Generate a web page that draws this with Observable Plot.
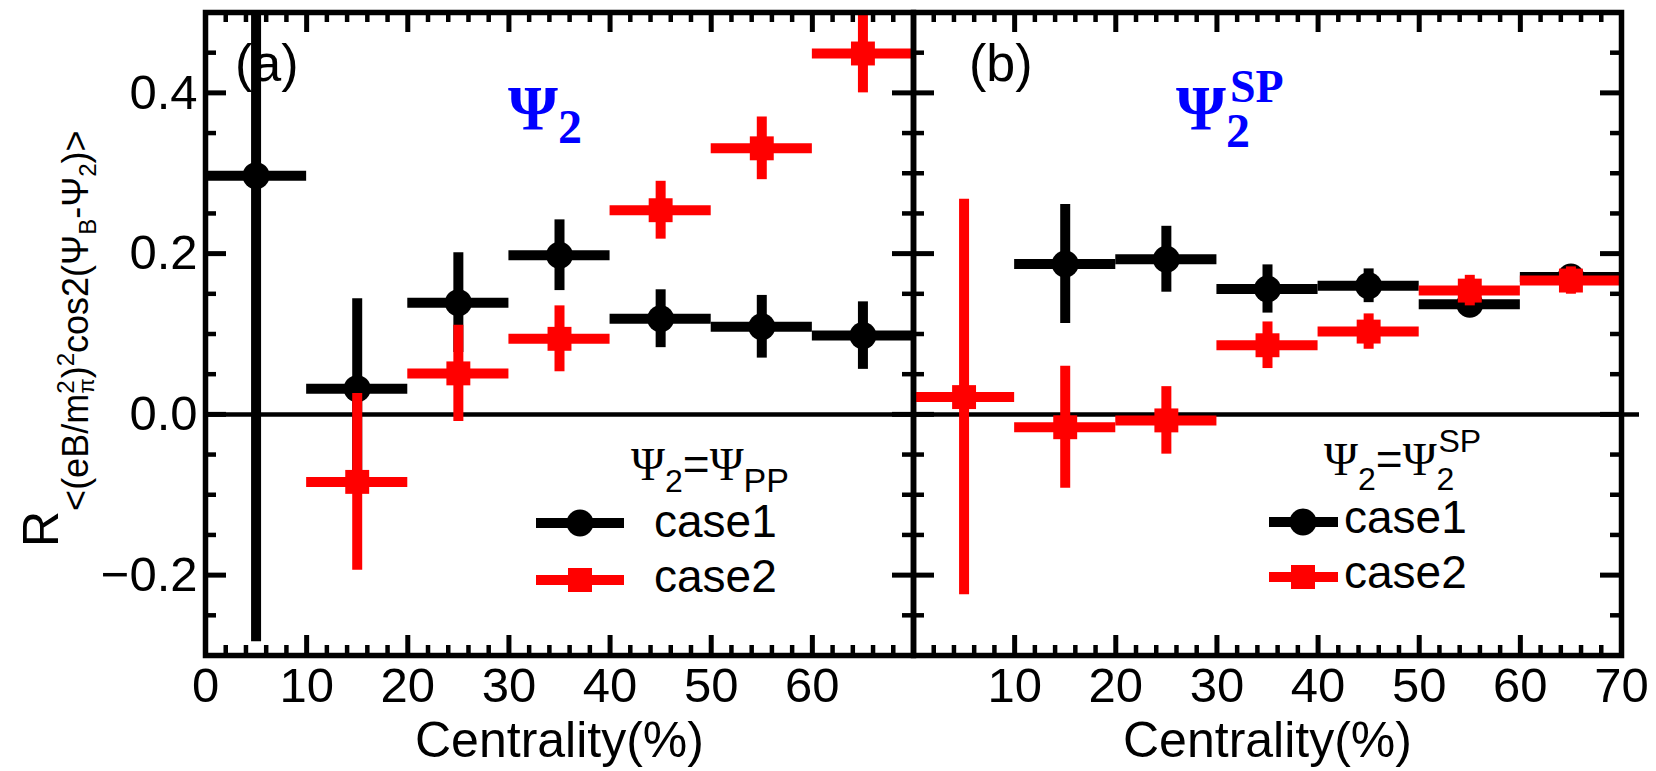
<!DOCTYPE html>
<html><head><meta charset="utf-8">
<script src="https://cdn.jsdelivr.net/npm/d3@7"></script>
<script src="https://cdn.jsdelivr.net/npm/@observablehq/plot@0.6"></script>
<style>
body{margin:0;background:#fff;}
#wrap{position:relative;width:1656px;height:771px;overflow:hidden;background:#fff;font-family:"Liberation Sans",Arial,sans-serif;}
#wrap svg{position:absolute;top:0;}
</style></head><body><div id="wrap"></div>
<script>
// ---------- data ----------
const binLow  = [0, 10, 20, 30, 40, 50, 60];
const binHigh = [10, 20, 30, 40, 50, 60, 70];
const centrality = [5, 15, 25, 35, 45, 55, 65];

// Panel (a): Ψ2 = Ψ_PP
const aCase1Cent = [5, 15, 25, 35, 45, 55, 65];
const aCase1Val  = [0.297, 0.032, 0.139, 0.198, 0.119, 0.109, 0.098];
const aCase1Err  = [0.580, 0.112, 0.062, 0.044, 0.036, 0.039, 0.042];
const aCase2Cent = [15, 25, 35, 45, 55, 65];
const aCase2Val  = [-0.084, 0.051, 0.094, 0.254, 0.331, 0.449];
const aCase2Err  = [0.110, 0.060, 0.041, 0.036, 0.039, 0.049];

// Panel (b): Ψ2 = Ψ2^SP
const bCase1Cent = [15, 25, 35, 45, 55, 65];
const bCase1Val  = [0.187, 0.193, 0.156, 0.160, 0.137, 0.171];
const bCase1Err  = [0.074, 0.041, 0.030, 0.021, 0.015, 0.012];
const bCase2Cent = [5, 15, 25, 35, 45, 55, 65];
const bCase2Val  = [0.0215, -0.016, -0.0075, 0.086, 0.103, 0.154, 0.1665];
const bCase2Err  = [0.246, 0.076, 0.042, 0.029, 0.022, 0.019, 0.017];

const xMajor = [0, 10, 20, 30, 40, 50, 60, 70];
const xMinor = [2,4,6,8,12,14,16,18,22,24,26,28,32,34,36,38,42,44,46,48,52,54,56,58,62,64,66,68];
const yMajor = [-0.2, 0, 0.2, 0.4];
const yMinor = [-0.25,-0.15,-0.1,-0.05,0.05,0.1,0.15,0.25,0.3,0.35,0.45];
const xLabelsA = [0, 10, 20, 30, 40, 50, 60];
const xLabelsB = [10, 20, 30, 40, 50, 60, 70];

// ---------- helpers ----------
function rows(cent, val, err) {
  return cent.map((c, i) => {
    const k = centrality.indexOf(c);
    return {c, lo: binLow[k], hi: binHigh[k], v: val[i], e: err[i]};
  });
}
const H = 771, MT = 12, MB = 116;
const innerH = H - MT - MB;

function series(data, color, symbol) {
  return [
    Plot.ruleY(data, {y: "v", x1: "lo", x2: "hi", stroke: color, strokeWidth: 10, clip: true}),
    Plot.ruleX(data, {x: "c", y1: d => d.v - d.e, y2: d => d.v + d.e, stroke: color, strokeWidth: 10, clip: true}),
    Plot.dot(data, {x: "c", y: "v", r: 13.5, fill: color, stroke: "none", symbol, clip: true})
  ];
}

function panel({left, width, marginLeft, marginRight, labels, showY, extendZero, sets}) {
  const innerW = width - marginLeft - marginRight;
  const marks = [
    Plot.ruleY([0], {stroke: "black", strokeWidth: 4.5, insetRight: extendZero ? -18 : 0}),
    Plot.tickX(xMinor, {x: d => d, insetTop: innerH - 10, strokeWidth: 4.5}),
    Plot.tickX(xMajor, {x: d => d, insetTop: innerH - 20, strokeWidth: 5}),
    Plot.tickX(xMinor, {x: d => d, insetBottom: innerH - 10, strokeWidth: 4.5}),
    Plot.tickX(xMajor, {x: d => d, insetBottom: innerH - 20, strokeWidth: 5}),
    Plot.tickY(yMinor, {y: d => d, insetRight: innerW - 11, strokeWidth: 4.5}),
    Plot.tickY(yMajor, {y: d => d, insetRight: innerW - 21, strokeWidth: 5}),
    Plot.tickY(yMinor, {y: d => d, insetLeft: innerW - 11, strokeWidth: 4.5}),
    Plot.tickY(yMajor, {y: d => d, insetLeft: innerW - 21, strokeWidth: 5}),
    ...sets.flat(),
    Plot.frame({stroke: "black", strokeWidth: 5.5})
  ];
  const svg = Plot.plot({
    width, height: H, marginLeft, marginRight, marginTop: MT, marginBottom: MB,
    x: {domain: [0, 70], ticks: labels, tickSize: 0, tickPadding: 12, tickFormat: d => String(d), label: null},
    y: {domain: [-0.3, 0.5], axis: showY ? "left" : null, ticks: yMajor, tickSize: 0, tickPadding: 8,
        tickFormat: d3.format(".1f"), label: null},
    style: {background: "transparent", fontSize: "49px", fontFamily: "'Liberation Sans', Arial, sans-serif",
            color: "black", overflow: "visible"},
    marks
  });
  svg.style.left = left + "px";
  return svg;
}

const wrap = document.getElementById("wrap");
wrap.appendChild(panel({
  left: 0, width: 916, marginLeft: 205, marginRight: 3, labels: xLabelsA, showY: true, extendZero: false,
  sets: [series(rows(aCase1Cent, aCase1Val, aCase1Err), "black", "circle"),
         series(rows(aCase2Cent, aCase2Val, aCase2Err), "#ff0000", "square")]
}));
wrap.appendChild(panel({
  left: 910, width: 746, marginLeft: 3, marginRight: 35, labels: xLabelsB, showY: false, extendZero: true,
  sets: [series(rows(bCase1Cent, bCase1Val, bCase1Err), "black", "circle"),
         series(rows(bCase2Cent, bCase2Val, bCase2Err), "#ff0000", "square")]
}));

// ---------- text overlay (titles, labels, legends) ----------
const ov = `
<svg width="1656" height="771" xmlns="http://www.w3.org/2000/svg" style="left:0;font-family:'Liberation Sans',Arial,sans-serif">
  <text transform="translate(58,547) rotate(-90)" font-size="50" fill="black">R<tspan font-size="36" dy="30">&lt;(eB/m</tspan><tspan font-size="24" dy="-14">2</tspan><tspan font-size="22" dx="-13" dy="20">π</tspan><tspan font-size="36" dy="-6">)</tspan><tspan font-size="24" dy="-14">2</tspan><tspan font-size="36" dy="14">cos2(Ψ</tspan><tspan font-size="24" dy="8">B</tspan><tspan font-size="36" dy="-8">-Ψ</tspan><tspan font-size="24" dy="8">2</tspan><tspan font-size="36" dy="-8">)&gt;</tspan></text>

  <text x="559.5" y="757" font-size="50" text-anchor="middle">Centrality(%)</text>
  <text x="1267.5" y="757" font-size="50" text-anchor="middle">Centrality(%)</text>

  <text x="235" y="81" font-size="52">(a)</text>
  <text x="969" y="81" font-size="52">(b)</text>

  <g fill="#0000ff" font-family="'Liberation Serif','DejaVu Serif',serif" font-weight="bold">
    <text x="508" y="130" font-size="64">Ψ<tspan font-size="48" dy="13">2</tspan></text>
    <text x="1176" y="130" font-size="64">Ψ<tspan font-size="48" dy="17">2</tspan><tspan font-size="46" dx="-20" dy="-45">SP</tspan></text>
  </g>

  <text x="631" y="480" font-size="46"><tspan font-family="'Liberation Serif',serif">Ψ</tspan><tspan font-size="32" dy="12">2</tspan><tspan dy="-12">=</tspan><tspan font-family="'Liberation Serif',serif">Ψ</tspan><tspan font-size="34" dy="12">PP</tspan></text>
  <line x1="536" x2="624" y1="523" y2="523" stroke="black" stroke-width="10"/>
  <circle cx="580" cy="523" r="13.5" fill="black"/>
  <line x1="536" x2="624" y1="580" y2="580" stroke="#ff0000" stroke-width="10"/>
  <rect x="568" y="568" width="24" height="24" fill="#ff0000"/>
  <text x="654" y="537" font-size="46">case1</text>
  <text x="654" y="592" font-size="46">case2</text>

  <text x="1324" y="475" font-size="46"><tspan font-family="'Liberation Serif',serif">Ψ</tspan><tspan font-size="32" dy="15">2</tspan><tspan dy="-15">=</tspan><tspan font-family="'Liberation Serif',serif">Ψ</tspan><tspan font-size="32" dy="15">2</tspan><tspan font-size="32" dx="-16" dy="-38">SP</tspan></text>
  <line x1="1269" x2="1338" y1="522" y2="522" stroke="black" stroke-width="10"/>
  <circle cx="1303" cy="522" r="13.5" fill="black"/>
  <line x1="1269" x2="1338" y1="577" y2="577" stroke="#ff0000" stroke-width="10"/>
  <rect x="1291" y="565" width="24" height="24" fill="#ff0000"/>
  <text x="1344" y="533" font-size="46">case1</text>
  <text x="1344" y="588" font-size="46">case2</text>
</svg>`;
wrap.insertAdjacentHTML("beforeend", ov);
</script>
</body></html>
